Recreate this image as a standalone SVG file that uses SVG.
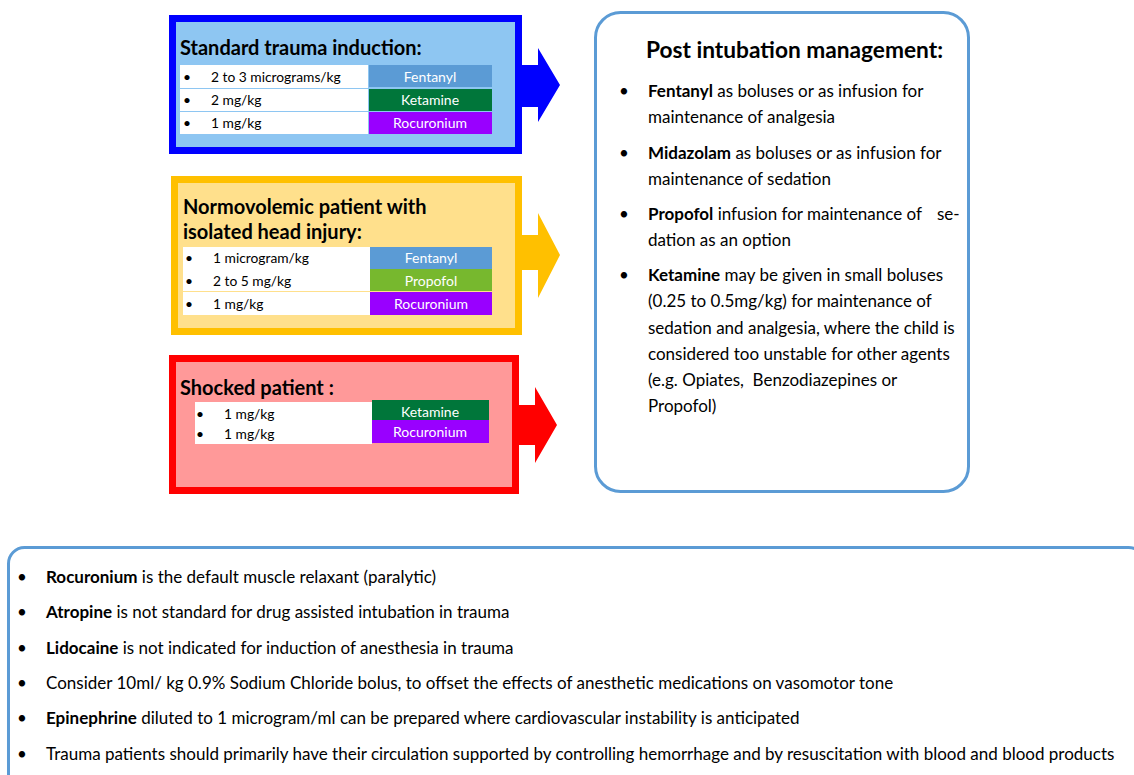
<svg xmlns="http://www.w3.org/2000/svg" width="1134" height="775" viewBox="0 0 1134 775">
<style>
text{font-family:Lato,"Liberation Sans",sans-serif;fill:#000}
.t{font-weight:bold;font-size:20px}
.d{font-size:13.8px}
.w{font-size:14px;fill:#fff;text-anchor:middle}
.p{font-size:17px}
.b{font-weight:bold}
.cell{fill:#fff}
</style>
<rect width="1134" height="775" fill="#fff"/>
<g id="connectors">
<polygon points="522,65 538,65 538,48 560,85 538,122 538,107 522,107" fill="#0000FF"/>
<polygon points="522,235 538,235 538,213 560,255 538,298 538,270 522,270" fill="#FFC000"/>
<polygon points="519,405 535,405 535,387 557,425 535,463 535,445 519,445" fill="#FF0000"/>
</g>
<g id="standard">
<rect x="172.5" y="18.5" width="346" height="132" fill="#8EC6F2" stroke="#0000FF" stroke-width="7"/>
<text class="t" x="180" y="55">Standard trauma induction:</text>
<rect class="cell" x="180" y="65" width="188" height="23"/>
<rect class="cell" x="180" y="89" width="188" height="22"/>
<rect class="cell" x="180" y="112" width="188" height="22"/>
<rect x="369" y="65" width="123" height="22" fill="#5B9BD5"/>
<rect x="369" y="89" width="123" height="22" fill="#00763A"/>
<rect x="369" y="112" width="123" height="22" fill="#9900FF"/>
<text class="d" x="183" y="82">•</text><text class="d" x="211" y="82">2 to 3 micrograms/kg</text>
<text class="d" x="183" y="105">•</text><text class="d" x="211" y="105">2 mg/kg</text>
<text class="d" x="183" y="128">•</text><text class="d" x="211" y="128">1 mg/kg</text>
<text class="w" x="430" y="82">Fentanyl</text>
<text class="w" x="430" y="105">Ketamine</text>
<text class="w" x="430" y="128">Rocuronium</text>
</g>
<g id="normovolemic">
<rect x="174.5" y="179.5" width="344" height="152" fill="#FFE08C" stroke="#FFC000" stroke-width="7"/>
<text class="t" x="183" y="214">Normovolemic patient with</text>
<text class="t" x="183" y="239">isolated head injury:</text>
<rect class="cell" x="183" y="247" width="187" height="44"/>
<rect class="cell" x="183" y="292" width="187" height="23"/>
<rect x="370" y="247" width="122" height="22" fill="#5B9BD5"/>
<rect x="370" y="269" width="122" height="22" fill="#77B82E"/>
<rect x="370" y="292" width="122" height="23" fill="#9900FF"/>
<text class="d" x="185" y="263">•</text><text class="d" x="213" y="263">1 microgram/kg</text>
<text class="d" x="185" y="286">•</text><text class="d" x="213" y="286">2 to 5 mg/kg</text>
<text class="d" x="185" y="309">•</text><text class="d" x="213" y="309">1 mg/kg</text>
<text class="w" x="431" y="263">Fentanyl</text>
<text class="w" x="431" y="286">Propofol</text>
<text class="w" x="431" y="309">Rocuronium</text>
</g>
<g id="shocked">
<rect x="172.5" y="358.5" width="343" height="132" fill="#FF9999" stroke="#FF0000" stroke-width="7"/>
<text class="t" x="180" y="395">Shocked patient :</text>
<rect class="cell" x="195" y="402" width="177" height="42"/>
<rect x="372" y="400" width="117" height="20" fill="#00763A"/>
<rect x="372" y="420" width="117" height="23" fill="#9900FF"/>
<text class="d" x="196" y="419">•</text><text class="d" x="224" y="419">1 mg/kg</text>
<text class="d" x="196" y="439">•</text><text class="d" x="224" y="439">1 mg/kg</text>
<text class="w" x="430" y="417">Ketamine</text>
<text class="w" x="430" y="437">Rocuronium</text>
</g>
<g id="post">
<rect x="595.5" y="12.5" width="373" height="479" rx="25" fill="#fff" stroke="#5B9BD5" stroke-width="3"/>
<text class="b" x="646" y="58" font-size="22.7">Post intubation management:</text>
<text class="p" x="619" y="97">•</text>
<text class="p" x="648" y="97"><tspan class="b">Fentanyl</tspan> as boluses or as infusion for</text>
<text class="p" x="648" y="123">maintenance of analgesia</text>
<text class="p" x="619" y="159">•</text>
<text class="p" x="648" y="159"><tspan class="b">Midazolam</tspan> as boluses or as infusion for</text>
<text class="p" x="648" y="185">maintenance of sedation</text>
<text class="p" x="619" y="220">•</text>
<text class="p" x="648" y="220"><tspan class="b">Propofol</tspan> infusion for maintenance of</text>
<text class="p" x="937" y="220">se-</text>
<text class="p" x="648" y="246">dation as an option</text>
<text class="p" x="619" y="281">•</text>
<text class="p" x="648" y="281"><tspan class="b">Ketamine</tspan> may be given in small boluses</text>
<text class="p" x="648" y="307">(0.25 to 0.5mg/kg) for maintenance of</text>
<text class="p" x="648" y="334">sedation and analgesia, where the child is</text>
<text class="p" x="648" y="360">considered too unstable for other agents</text>
<text class="p" x="648" y="386" xml:space="preserve">(e.g. Opiates,  Benzodiazepines or</text>
<text class="p" x="648" y="412">Propofol)</text>
</g>
<g id="notes">
<rect x="8.5" y="547.5" width="1136" height="250" rx="16" fill="#fff" stroke="#5B9BD5" stroke-width="3"/>
<text class="p" x="17" y="583">•</text>
<text class="p" x="46" y="583"><tspan class="b">Rocuronium</tspan> is the default muscle relaxant (paralytic)</text>
<text class="p" x="17" y="618">•</text>
<text class="p" x="46" y="618"><tspan class="b">Atropine</tspan> is not standard for drug assisted intubation in trauma</text>
<text class="p" x="17" y="654">•</text>
<text class="p" x="46" y="654"><tspan class="b">Lidocaine</tspan> is not indicated for induction of anesthesia in trauma</text>
<text class="p" x="17" y="689">•</text>
<text class="p" x="46" y="689">Consider 10ml/ kg 0.9% Sodium Chloride bolus, to offset the effects of anesthetic medications on vasomotor tone</text>
<text class="p" x="17" y="724">•</text>
<text class="p" x="46" y="724"><tspan class="b">Epinephrine</tspan> diluted to 1 microgram/ml can be prepared where cardiovascular instability is anticipated</text>
<text class="p" x="17" y="760">•</text>
<text class="p" x="46" y="760">Trauma patients should primarily have their circulation supported by controlling hemorrhage and by resuscitation with blood and blood products</text>
</g>
</svg>
